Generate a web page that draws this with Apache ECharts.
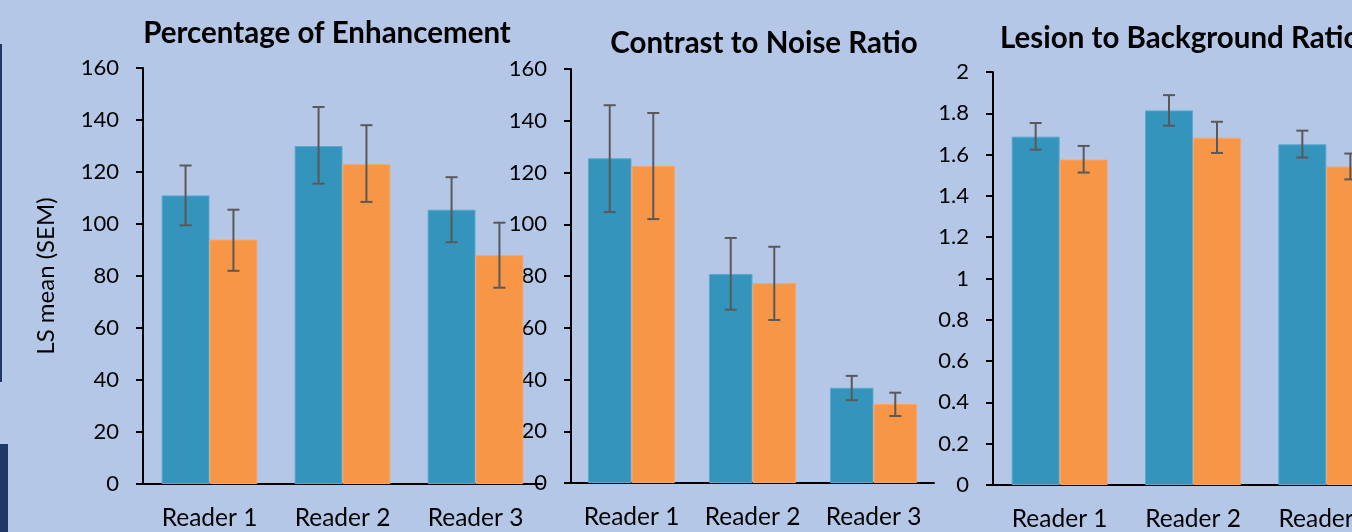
<!DOCTYPE html>
<html>
<head>
<meta charset="utf-8">
<script src="https://cdn.jsdelivr.net/npm/echarts@6/dist/echarts.min.js"></script>
<style>
  html, body { margin: 0; padding: 0; background: #b4c7e7; overflow: hidden; }
  /* the last panel runs past the right edge, as in the source slide */
  #chart { width: 1400px; height: 532px; }
</style>
</head>
<body>
<div id="chart"></div>
<script>
// categories and values
const readers = ['Reader 1', 'Reader 2', 'Reader 3']

const poeBlue = [111, 130, 105.5]
const poeOrange = [94, 123, 88]
const poeBlueErr = [[99.5, 122.5], [115.5, 145], [93, 118]]
const poeOrangeErr = [[82, 105.5], [108.5, 138], [75.5, 100.5]]

const cnrBlue = [125.5, 80.8, 36.8]
const cnrOrange = [122.5, 77.3, 30.5]
const cnrBlueErr = [[104.7, 146], [67, 94.7], [32, 41.4]]
const cnrOrangeErr = [[102, 143], [63, 91.3], [25.9, 34.9]]

const lbrBlue = [1.687, 1.814, 1.65]
const lbrOrange = [1.576, 1.682, 1.542]
const lbrBlueErr = [[1.624, 1.753], [1.74, 1.888], [1.586, 1.716]]
const lbrOrangeErr = [[1.513, 1.642], [1.608, 1.759], [1.48, 1.605]]

const FONT = 'Lato'
const BLUE = '#3594bc'
const ORANGE = '#f79646'
const GAP = 0.28

function errRender(side) {
  return function (params, api) {
    const i = api.value(0)
    const lo = api.coord([i, api.value(1)])
    const hi = api.coord([i, api.value(2)])
    const band = api.size([1, 0])[0]
    const x = lo[0] + side * band * (1 - GAP) / 4
    const half = 6
    const style = { stroke: '#595959', lineWidth: 2 }
    return {
      type: 'group',
      children: [
        { type: 'line', shape: { x1: x, y1: lo[1], x2: x, y2: hi[1] }, style },
        { type: 'line', shape: { x1: x - half, y1: lo[1], x2: x + half, y2: lo[1] }, style },
        { type: 'line', shape: { x1: x - half, y1: hi[1], x2: x + half, y2: hi[1] }, style }
      ]
    }
  }
}

function xAxis(idx) {
  return {
    type: 'category',
    gridIndex: idx,
    data: readers,
    axisLine: { lineStyle: { color: '#000', width: 2 } },
    axisTick: { show: false },
    axisLabel: { color: '#000', fontFamily: FONT, fontSize: 24.5, margin: 22, interval: 0, hideOverlap: false }
  }
}

function yAxis(idx, max, interval, extra) {
  return Object.assign({
    type: 'value',
    gridIndex: idx,
    min: 0,
    max: max,
    interval: interval,
    splitLine: { show: false },
    axisLine: { show: true, lineStyle: { color: '#000', width: 2 } },
    axisTick: { show: true, length: 7, lineStyle: { color: '#000', width: 2 } },
    axisLabel: { color: '#000', fontFamily: FONT, fontSize: 22, margin: 24 }
  }, extra || {})
}

function bars(idx, blue, orange, blueErr, orangeErr) {
  const mk = (data, color, border) => ({
    type: 'bar',
    xAxisIndex: idx,
    yAxisIndex: idx,
    data: data,
    barGap: '0%',
    barCategoryGap: (GAP * 100) + '%',
    itemStyle: { color: color, borderColor: border, borderWidth: 1 },
    silent: true
  })
  const err = (e, side) => ({
    type: 'custom',
    xAxisIndex: idx,
    yAxisIndex: idx,
    z: 5,
    renderItem: errRender(side),
    data: e.map((d, i) => [i, d[0], d[1]]),
    silent: true
  })
  return [mk(blue, BLUE, '#5aa8cc'), mk(orange, ORANGE, '#f9a566'), err(blueErr, -1), err(orangeErr, 1)]
}

const titleStyle = { fontFamily: FONT, fontWeight: 'bold', fontSize: 29.5, color: '#000' }

const chart = echarts.init(document.getElementById('chart'))
chart.setOption({
  backgroundColor: '#b4c7e7',
  animation: false,
  title: [
    { text: 'Percentage of Enhancement', left: 322, top: 13, textAlign: 'center', textStyle: titleStyle },
    { text: 'Contrast to Noise Ratio', left: 759, top: 23, textAlign: 'center', textStyle: titleStyle },
    { text: 'Lesion to Background Ratio', left: 995, top: 18, textStyle: titleStyle }
  ],
  grid: [
    { left: 143, top: 68, width: 399, height: 416 },
    { left: 571, top: 69, width: 363, height: 414 },
    { left: 993, top: 72, width: 400, height: 415 }
  ],
  xAxis: [xAxis(0), xAxis(1), xAxis(2)],
  yAxis: [
    yAxis(0, 160, 20, {
      name: 'LS mean (SEM)', nameLocation: 'middle', nameGap: 85,
      nameTextStyle: { color: '#000', fontFamily: FONT, fontSize: 24 }
    }),
    yAxis(1, 160, 20),
    yAxis(2, 2, 0.2)
  ],
  series: [].concat(
    bars(0, poeBlue, poeOrange, poeBlueErr, poeOrangeErr),
    bars(1, cnrBlue, cnrOrange, cnrBlueErr, cnrOrangeErr),
    bars(2, lbrBlue, lbrOrange, lbrBlueErr, lbrOrangeErr)
  ),
  graphic: [
    { type: 'rect', shape: { x: 0, y: 44, width: 2, height: 338 }, style: { fill: '#1f3864' } },
    { type: 'rect', shape: { x: 0, y: 444, width: 8, height: 88 }, style: { fill: '#1f3864' } }
  ]
})
</script>
</body>
</html>
